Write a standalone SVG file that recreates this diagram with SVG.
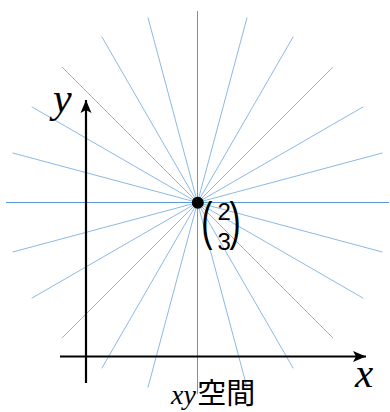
<svg xmlns="http://www.w3.org/2000/svg" width="390" height="412" viewBox="0 0 390 412">
<style>
.ray{stroke:#7DB1E3;stroke-width:0.9;fill:none}
.ray0{stroke:#5B9BD5;stroke-width:1;fill:none}
.axis{stroke:#000;stroke-width:2.2;fill:none}
.it{font-family:"Liberation Serif",serif;font-style:italic;fill:#000}
.num{font-family:"Liberation Sans",sans-serif;fill:#000}
</style>
<defs>
<marker id="arr" markerUnits="userSpaceOnUse" markerWidth="14" markerHeight="14" viewBox="0 0 14 12" refX="13" refY="6" orient="auto">
<path d="M0,0.5 L13,6 L0,11.5 L3,6 z" fill="#000"/>
</marker>
</defs>
<rect width="390" height="412" fill="#fff"/>
<g id="rays" transform="translate(197.5,202.5)">
<line class="ray0" x1="-191.5" y1="0" x2="191.5" y2="0"/>
<line class="ray" x1="-184.97" y1="-49.56" x2="184.97" y2="49.56"/>
<line class="ray" x1="-165.84" y1="-95.75" x2="165.84" y2="95.75"/>
<line class="ray" x1="-135.41" y1="-135.41" x2="135.41" y2="135.41"/>
<line class="ray" x1="-95.75" y1="-165.84" x2="95.75" y2="165.84"/>
<line class="ray" x1="-49.56" y1="-184.97" x2="49.56" y2="184.97"/>
<line class="ray0" x1="0" y1="-191.5" x2="0" y2="191.5"/>
<line class="ray" x1="49.56" y1="-184.97" x2="-49.56" y2="184.97"/>
<line class="ray" x1="95.75" y1="-165.84" x2="-95.75" y2="165.84"/>
<line class="ray" x1="135.41" y1="-135.41" x2="-135.41" y2="135.41"/>
<line class="ray" x1="165.84" y1="-95.75" x2="-165.84" y2="95.75"/>
<line class="ray" x1="184.97" y1="-49.56" x2="-184.97" y2="49.56"/>
</g>
<g id="axes">
<line class="axis" x1="86" y1="383" x2="86" y2="100" marker-end="url(#arr)"/>
<line class="axis" x1="60" y1="356.5" x2="366" y2="356.5" marker-end="url(#arr)"/>
</g>
<g id="point">
<circle cx="197.8" cy="202.7" r="6" fill="#000"/>
<text class="num" transform="translate(201.2,239.2) scale(1.2,1.82)" font-size="28">(</text>
<text class="num" x="217.5" y="220" font-size="24">2</text>
<text class="num" x="217.5" y="250" font-size="24">3</text>
<text class="num" transform="translate(229.5,239.2) scale(1.2,1.82)" font-size="28">)</text>
</g>
<g id="labels">
<text class="it" x="53" y="112" font-size="42">y</text>
<text class="it" x="355" y="387" font-size="41">x</text>
<text x="171" y="404" font-size="29" font-family="'Noto Sans CJK JP',sans-serif"><tspan class="it" font-family="'Liberation Serif',serif" font-size="28">xy</tspan><tspan dx="1.5">空間</tspan></text>
</g>
</svg>
